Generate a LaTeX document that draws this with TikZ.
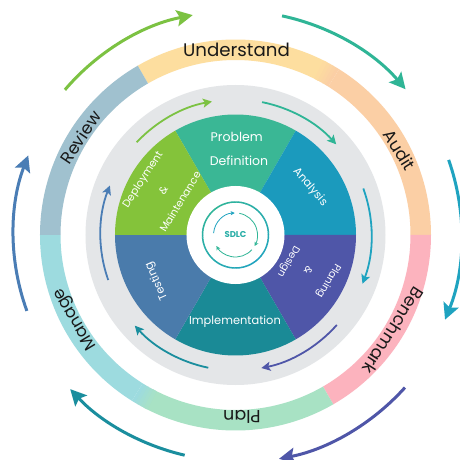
\documentclass[tikz,border=0pt]{standalone}
\usepackage{fontspec}
\setmainfont{Poppins}
\usetikzlibrary{arrows.meta}
\definecolor{cUnder}{HTML}{FDDE9F}
\definecolor{cAudit}{HTML}{FBCFA5}
\definecolor{cBench}{HTML}{FCB3BE}
\definecolor{cPlan}{HTML}{A8E2C4}
\definecolor{cManage}{HTML}{9DDBDF}
\definecolor{cReview}{HTML}{A0C1CF}
\definecolor{cGray}{HTML}{E4E6E8}
\definecolor{cProblem}{HTML}{3AB795}
\definecolor{cAnalysis}{HTML}{1B9ABD}
\definecolor{cPlaning}{HTML}{4F56A8}
\definecolor{cImpl}{HTML}{1A8A96}
\definecolor{cTest}{HTML}{4A7BAB}
\definecolor{cDeploy}{HTML}{84C33A}
\definecolor{aGreen}{HTML}{7CC242}
\definecolor{aTeal}{HTML}{2FB596}
\definecolor{aCyan}{HTML}{1FA3C0}
\definecolor{aPurple}{HTML}{4F56A8}
\definecolor{aTeal2}{HTML}{1A8E9E}
\definecolor{aBlue}{HTML}{4A7DB5}
\tikzset{
  x=1pt,y=1pt,
  outerarrow/.style={line width=3pt,-{Stealth[length=16pt,width=16pt,inset=3pt]}},
  innerarrow/.style={line width=1.8pt,-{Stealth[length=9pt,width=9pt,inset=2pt]}},
  centerarrow/.style={line width=.8pt,-{Stealth[length=4pt,width=4pt,inset=1pt]}},
  ringlabel/.style={text=black!90,inner sep=0pt,text height=12pt,text depth=0pt,font=\fontsize{#1}{18}\selectfont},
  seclabel/.style={text=white,inner sep=0pt,font=\fontsize{#1}{14}\selectfont},
}
\newcommand{\wedgefill}[3]{\fill[#3] (0,0) -- (#1:120.5) arc[start angle=#1,end angle=#2,radius=120.5] -- cycle;}
\newcommand{\ringseg}[3]{\fill[#3] (#1:175) arc[start angle=#1,end angle=#2,radius=175] -- (#2:195.5) arc[start angle=#2,end angle=#1,radius=195.5] -- cycle;}
\begin{document}
\begin{tikzpicture}
\useasboundingbox (-235.5,-225) rectangle (223.5,235);
\fill[white] (-235.5,-225) rectangle (223.5,235);
% outer ring
\ringseg{120}{62}{cUnder}
\foreach \a/\m in {58/0,59/20,60/40,61/60,62/80}{
  \ringseg{\a+1.2}{\a}{cUnder!\m!cAudit}}
\ringseg{58}{0}{cAudit}
\ringseg{0}{-60}{cBench}
\ringseg{-60}{-118}{cPlan}
\foreach \a/\m in {-122/0,-121/20,-120/40,-119/60,-118/80}{
  \ringseg{\a+1.2}{\a}{cPlan!\m!cManage}}
\ringseg{-122}{-180}{cManage}
\ringseg{180}{120}{cReview}
% ring labels (straight, reading clockwise)
\node[ringlabel=18.2] (understand) at (1,184.5) {Understand};
\node[ringlabel=17,rotate=-58] (audit) at (163.5,85) {Audit};
\node[ringlabel=17.2,rotate=-122.6] (benchmark) at (157.5,-95.5) {Benchmark};
\node[ringlabel=17.5,rotate=180] (plan) at (6.5,-181) {Plan};
\node[ringlabel=16.5,rotate=121] (manage) at (-162.2,-85) {Manage};
\node[ringlabel=17,rotate=56] (review) at (-154.7,97.5) {Review};
% outer arrows
\draw[outerarrow,aGreen] (139.6:224) arc[start angle=139.6,end angle=101,radius=224];
\draw[outerarrow,aTeal] (78:224) arc[start angle=78,end angle=40.6,radius=224];
\draw[outerarrow,aCyan] (19.4:226) arc[start angle=19.4,end angle=-22,radius=226];
\draw[outerarrow,aPurple] (-42:228) arc[start angle=-42,end angle=-79,radius=228];
\draw[outerarrow,aTeal2] (-103:226) arc[start angle=-103,end angle=-137,radius=226];
\draw[outerarrow,aBlue] (200:222) arc[start angle=200,end angle=159,radius=222];
% inner disc
\fill[cGray] (0,0) circle[radius=150];
\wedgefill{120}{60}{cProblem}
\wedgefill{60}{0}{cAnalysis}
\wedgefill{0}{-60}{cPlaning}
\wedgefill{-60}{-120}{cImpl}
\wedgefill{-120}{-180}{cTest}
\wedgefill{180}{120}{cDeploy}
\fill[white] (0,0) circle[radius=49];
% inner arrows
\draw[innerarrow,aGreen] (136.8:135.5) arc[start angle=136.8,end angle=100,radius=135.5];
\draw[innerarrow,aTeal] (78.7:135.5) arc[start angle=78.7,end angle=42,radius=135.5];
\draw[innerarrow,aCyan] (20:136) arc[start angle=20,end angle=-21,radius=136];
\draw[innerarrow,aPurple] (-41.6:135.5) arc[start angle=-41.6,end angle=-79,radius=135.5];
\draw[innerarrow,aTeal2] (-101.6:135.5) arc[start angle=-101.6,end angle=-138,radius=135.5];
\draw[innerarrow,aBlue] (199.5:135) arc[start angle=199.5,end angle=158.5,radius=135];
% sector labels
\node[seclabel=12.5] (problem) at (1.2,98.3) {Problem};
\node[seclabel=12.5] (definition) at (3.5,74) {Definition};
\node[seclabel=11.2,rotate=-49] (analysis) at (74.5,47.7) {Analysis};
\node[seclabel=10,rotate=-120] (design) at (52.8,-26.7) {Design};
\node[seclabel=10,rotate=-120] (amp1) at (72.8,-35) {\&};
\node[seclabel=10.2,rotate=-120] (planing) at (92.8,-45.7) {Planing};
\node[seclabel=11.4] (impl) at (-0.5,-86.7) {Implementation};
\node[seclabel=11.2,rotate=114] (testing) at (-78.8,-45.7) {Testing};
\node[seclabel=10.6,rotate=57] (deploy) at (-92.2,55) {Deployment};
\node[seclabel=10.6,rotate=58] (amp2) at (-72.2,45) {\&};
\node[seclabel=10.4,rotate=58.6] (maint) at (-55.5,33.3) {Maintenance};
% centre
\foreach \a in {0,4,...,356}{
  \pgfmathsetmacro{\q}{abs(mod(\a+360-125,360)-180)/1.8}
  \draw[line width=1.5pt,aTeal!\q!aCyan] (\a:33) arc[start angle=\a,end angle=\a+4.5,radius=33];
}
\draw[centerarrow,aCyan] (175:22) arc[start angle=175,end angle=92,radius=22];
\draw[centerarrow,aTeal] (80:22) arc[start angle=80,end angle=-30,radius=22];
\draw[centerarrow,aTeal] (-42:22) arc[start angle=-42,end angle=-150,radius=22];
\node[text=aTeal!60!aCyan,font=\fontsize{8.5}{9}\selectfont\bfseries,inner sep=0pt] (sdlc) at (0,0) {SDLC};
\end{tikzpicture}
\end{document}
